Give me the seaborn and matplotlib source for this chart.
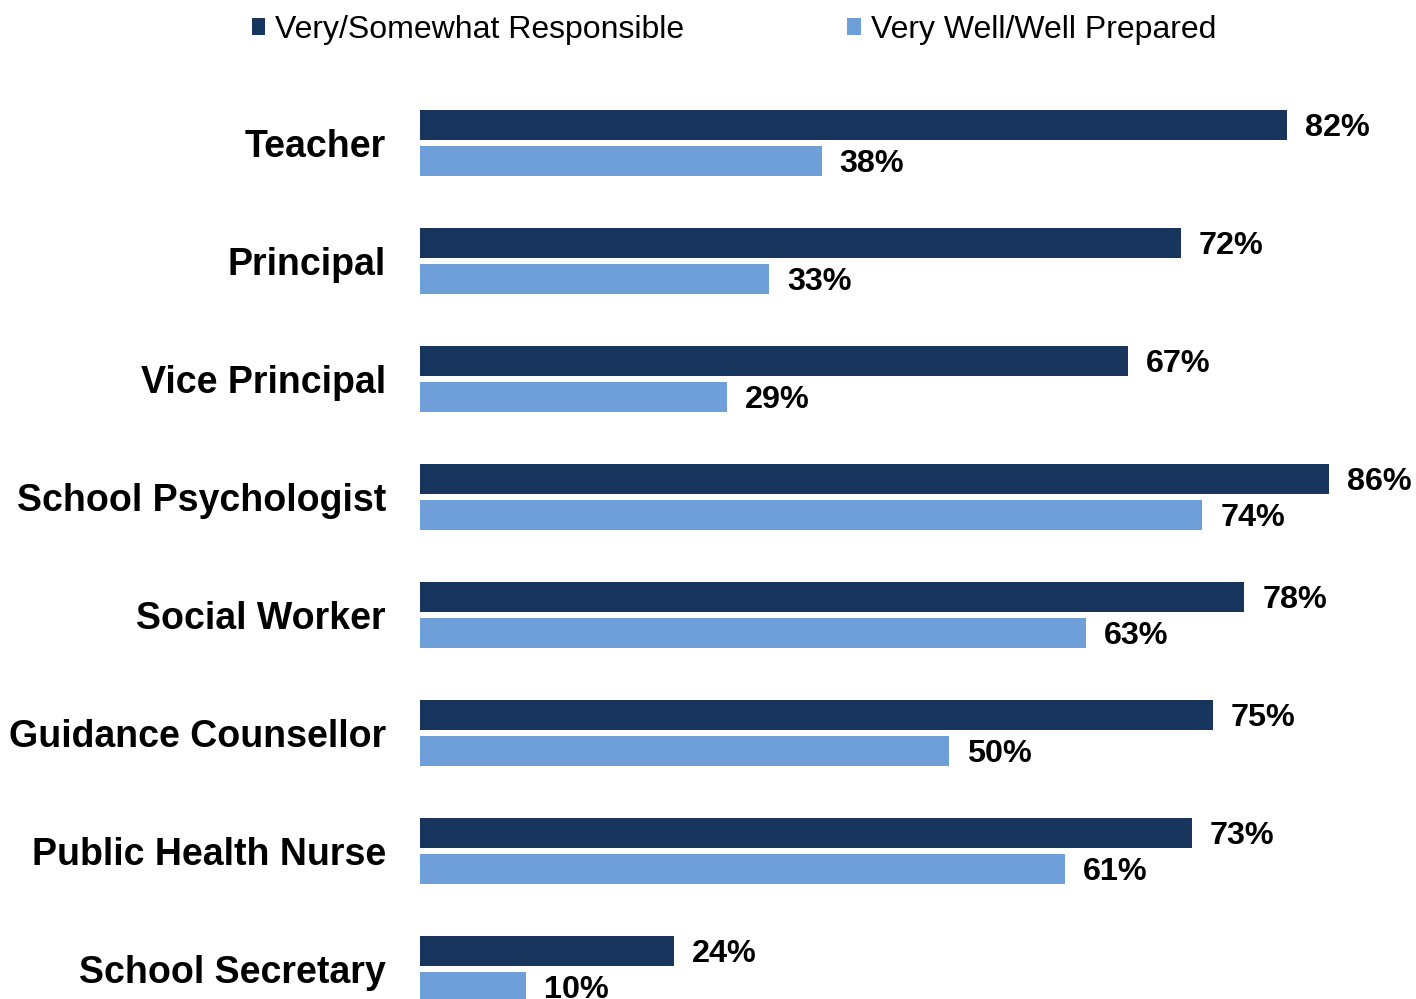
import matplotlib
matplotlib.use("Agg")
import matplotlib.pyplot as plt
from matplotlib.patches import Patch
import pandas as pd
import seaborn as sns

roles = ["Teacher", "Principal", "Vice Principal", "School Psychologist",
         "Social Worker", "Guidance Counsellor", "Public Health Nurse",
         "School Secretary"]
responsible = [82, 72, 67, 86, 78, 75, 73, 24]
prepared = [38, 33, 29, 74, 63, 50, 61, 10]
series_names = ["Very/Somewhat Responsible", "Very Well/Well Prepared"]
colors = ["#18365d", "#6f9fd9"]

df = pd.DataFrame({
    "role": roles * 2,
    "pct": responsible + prepared,
    "series": [series_names[0]] * len(roles) + [series_names[1]] * len(roles),
})

sns.set_theme(style="white")
plt.rcParams["font.family"] = ["Liberation Sans", "DejaVu Sans"]
plt.rcParams["text.color"] = "black"

W, H = 1416, 999
fig = plt.figure(figsize=(W / 100, H / 100), dpi=100)
ax = fig.add_axes([420 / W, 0, (W - 420) / W, (H - 25) / H])

sns.barplot(data=df, x="pct", y="role", hue="series", order=roles,
            hue_order=series_names, palette=colors, orient="h",
            width=0.61, gap=0.167, saturation=1, linewidth=0,
            legend=False, ax=ax)

ax.set_xlim(0, (W - 420) / 10.57)
ax.set_ylim(7.254, -1.0)
for c in ax.containers:
    anns = ax.bar_label(c, labels=[f"{v:.0f}%" for v in c.datavalues],
                        padding=13, fontsize=23.3, fontweight="bold",
                        color="black")
    for a in anns:
        a.xyann = (13, -2.2)

ax.set_xlabel("")
ax.set_ylabel("")
ax.set_xticks([])
ax.tick_params(axis="y", length=0, pad=24.5)
for lbl in ax.get_yticklabels():
    lbl.set_fontsize(27.0)
    lbl.set_fontweight("bold")
    lbl.set_color("black")
for s in ax.spines.values():
    s.set_visible(False)

handles = [Patch(facecolor=c, edgecolor="none") for c in colors]
leg = fig.legend(handles, series_names, loc="center",
                 bbox_to_anchor=(734 / W, 1 - 30 / H),
                 ncol=2, frameon=False, fontsize=23, handlelength=0.42,
                 handleheight=0.42, handletextpad=0.32, columnspacing=5.1,
                 borderaxespad=0)
for t in leg.get_texts():
    t.set_color("black")

fig.savefig("out.png", dpi=100)
